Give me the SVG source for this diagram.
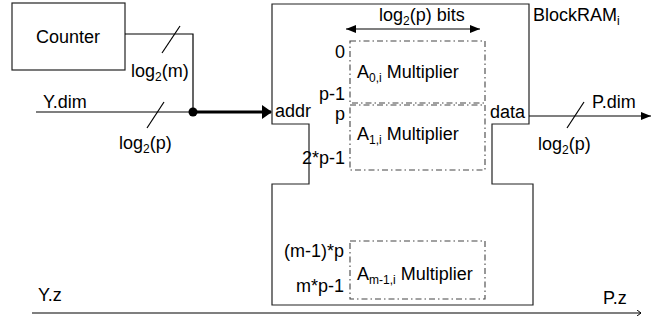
<svg xmlns="http://www.w3.org/2000/svg" width="652" height="325" viewBox="0 0 652 325">
<defs>
<style>
text{font-family:"Liberation Sans",Arial,sans-serif;font-size:18px;fill:#000}
.sub{font-size:12px}
.ln{stroke:#000;stroke-width:1.2;fill:none}
.box{stroke:#222;stroke-width:1.2;fill:#fff}
.dd{stroke:#444;stroke-width:1.1;fill:none;stroke-dasharray:6,3,1.5,3}
.r{text-anchor:end}
</style>
<marker id="ah" viewBox="0 0 10 8" refX="10" refY="4" markerWidth="10" markerHeight="8" markerUnits="userSpaceOnUse" orient="auto-start-reverse"><path d="M0,0 L10,4 L0,8 Z" fill="#000"/></marker>
<marker id="ahb" viewBox="0 0 10 14" refX="9" refY="7" markerWidth="10" markerHeight="14" markerUnits="userSpaceOnUse" orient="auto"><path d="M0,0 L10,7 L0,14 Z" fill="#000"/></marker>
<marker id="ahs" viewBox="0 0 4 6" refX="4" refY="3" markerWidth="4" markerHeight="6" markerUnits="userSpaceOnUse" orient="auto"><path d="M0,0 L4,3 L0,6" fill="none" stroke="#000" stroke-width="1"/></marker>
</defs>
<g id="counter">
<rect class="box" x="12" y="3" width="113" height="67"/>
<text x="36" y="43">Counter</text>
</g>
<g id="blockram">
<path class="box" d="M272,4 H529 V124 H492 V184 H533 V305 H272 V184 H309 V124 H272 Z"/>
<text x="533" y="21">BlockRAM<tspan class="sub" dy="4">i</tspan></text>
<text x="275" y="117">addr</text>
<text x="490" y="118">data</text>
<text x="379" y="21">log<tspan class="sub" dy="4">2</tspan><tspan dy="-4">(p) bits</tspan></text>
<text class="r" x="345" y="58">0</text>
<text class="r" x="345" y="100">p-1</text>
<text class="r" x="345" y="120">p</text>
<text class="r" x="345" y="164">2*p-1</text>
<text class="r" x="344" y="257">(m-1)*p</text>
<text class="r" x="344" y="292">m*p-1</text>
</g>
<g id="mult0">
<rect class="dd" x="350" y="41" width="135" height="62"/>
<text x="357" y="78">A<tspan class="sub" dy="4">0,i</tspan><tspan dy="-4"> Multiplier</tspan></text>
</g>
<g id="mult1">
<rect class="dd" x="350" y="105" width="135" height="65"/>
<text x="357" y="140">A<tspan class="sub" dy="4">1,i</tspan><tspan dy="-4"> Multiplier</tspan></text>
</g>
<g id="multm">
<rect class="dd" x="350" y="241" width="135" height="58"/>
<text x="357" y="280">A<tspan class="sub" dy="4">m-1,i</tspan><tspan dy="-4"> Multiplier</tspan></text>
</g>
<g id="connectors">
<path class="ln" d="M125,34 H193 V112"/>
<line class="ln" x1="162" y1="53" x2="180" y2="26"/>
<text x="131" y="77">log<tspan class="sub" dy="4">2</tspan><tspan dy="-4">(m)</tspan></text>
<line class="ln" x1="36" y1="112" x2="193" y2="112"/>
<line class="ln" x1="147" y1="128" x2="164" y2="102"/>
<text x="43" y="108">Y.dim</text>
<text x="119" y="149">log<tspan class="sub" dy="4">2</tspan><tspan dy="-4">(p)</tspan></text>
<circle cx="193" cy="112" r="4.5" fill="#000"/>
<line x1="193" y1="112" x2="271" y2="112" stroke="#000" stroke-width="3.2" marker-end="url(#ahb)"/>
<line class="ln" x1="346" y1="29" x2="480" y2="29" marker-start="url(#ah)" marker-end="url(#ah)"/>
<line class="ln" x1="529" y1="116" x2="651" y2="116" marker-end="url(#ah)"/>
<line class="ln" x1="567" y1="128" x2="584" y2="102"/>
<text x="592" y="108">P.dim</text>
<text x="538" y="150">log<tspan class="sub" dy="4">2</tspan><tspan dy="-4">(p)</tspan></text>
<line class="ln" x1="32" y1="313" x2="641" y2="313" marker-end="url(#ahs)"/>
<text x="38" y="301">Y.z</text>
<text x="603" y="304">P.z</text>
</g>
</svg>
